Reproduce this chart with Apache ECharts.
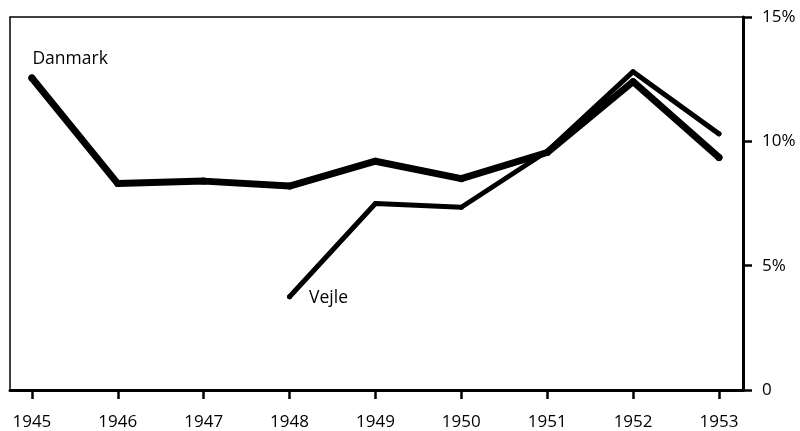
<!DOCTYPE html>
<html>
<head>
<meta charset="utf-8">
<script src="https://cdn.jsdelivr.net/npm/echarts@6/dist/echarts.min.js"></script>
<style>
  html, body { margin: 0; padding: 0; background: #fff; }
  #chart { width: 800px; height: 431px; }
</style>
</head>
<body>
<div id="chart"></div>
<script>
// Years on the horizontal axis
const years = [1945, 1946, 1947, 1948, 1949, 1950, 1951, 1952, 1953];
// Rate in percent, Danmark (whole country)
const danmark = [12.55, 8.3, 8.4, 8.2, 9.2, 8.5, 9.55, 12.4, 9.35];
// Rate in percent, Vejle (series starts in 1948)
const vejleYears = [1948, 1949, 1950, 1951, 1952, 1953];
const vejle = [3.75, 7.5, 7.35, 9.6, 12.8, 10.3];
// Right-hand axis ticks
const yTicks = [0, 5, 10, 15];

const FONT = '"Open Sans", "Noto Sans", sans-serif';

function pairs(xs, ys, labelText, labelOpts) {
  return xs.map((x, i) => {
    const item = { value: [x, ys[i]] };
    if (i === 0) {
      item.label = Object.assign({ show: true, formatter: labelText }, labelOpts);
    }
    return item;
  });
}

const chart = echarts.init(document.getElementById('chart'), null, { renderer: 'canvas' });

chart.setOption({
  animation: false,
  backgroundColor: '#fff',
  grid: {
    left: 10, right: 57, top: 17, bottom: 41,
    show: true, borderColor: '#000', borderWidth: 1.5, backgroundColor: 'transparent'
  },
  xAxis: {
    type: 'value',
    min: 1944.745,
    max: 1953.28,
    interval: 1,
    splitLine: { show: false },
    axisLine: { show: true, onZero: false, lineStyle: { color: '#000', width: 3 } },
    axisTick: { show: true, length: 9, lineStyle: { color: '#000', width: 2.5 }, customValues: years },
    axisLabel: {
      color: '#000', fontSize: 17, fontFamily: FONT, margin: 24,
      customValues: years, formatter: v => String(v)
    }
  },
  yAxis: {
    type: 'value',
    position: 'right',
    min: 0, max: 15, interval: 5,
    splitLine: { show: false },
    axisLine: { show: true, lineStyle: { color: '#000', width: 3 } },
    axisTick: { show: true, length: 9, lineStyle: { color: '#000', width: 2.5 }, customValues: yTicks },
    axisLabel: {
      color: '#000', fontSize: 17, fontFamily: FONT, margin: 19,
      customValues: yTicks,
      formatter: v => (v === 0 ? '0' : v + '%')
    }
  },
  series: [
    {
      name: 'Danmark',
      type: 'line',
      data: pairs(years, danmark, 'Danmark', {
        position: 'right', distance: 0, offset: [-3, -19],
        color: '#000', fontSize: 17.5, fontFamily: FONT
      }),
      symbol: 'circle', symbolSize: 7,
      itemStyle: { color: '#000' },
      lineStyle: { color: '#000', width: 7, cap: 'round', join: 'round' },
      z: 3
    },
    {
      name: 'Vejle',
      type: 'line',
      data: pairs(vejleYears, vejle, 'Vejle', {
        position: 'right', distance: 17, offset: [0, 1],
        color: '#000', fontSize: 17.5, fontFamily: FONT
      }),
      symbol: 'circle', symbolSize: 5,
      itemStyle: { color: '#000' },
      lineStyle: { color: '#000', width: 5, cap: 'round', join: 'round' },
      z: 2
    }
  ]
});
</script>
</body>
</html>
